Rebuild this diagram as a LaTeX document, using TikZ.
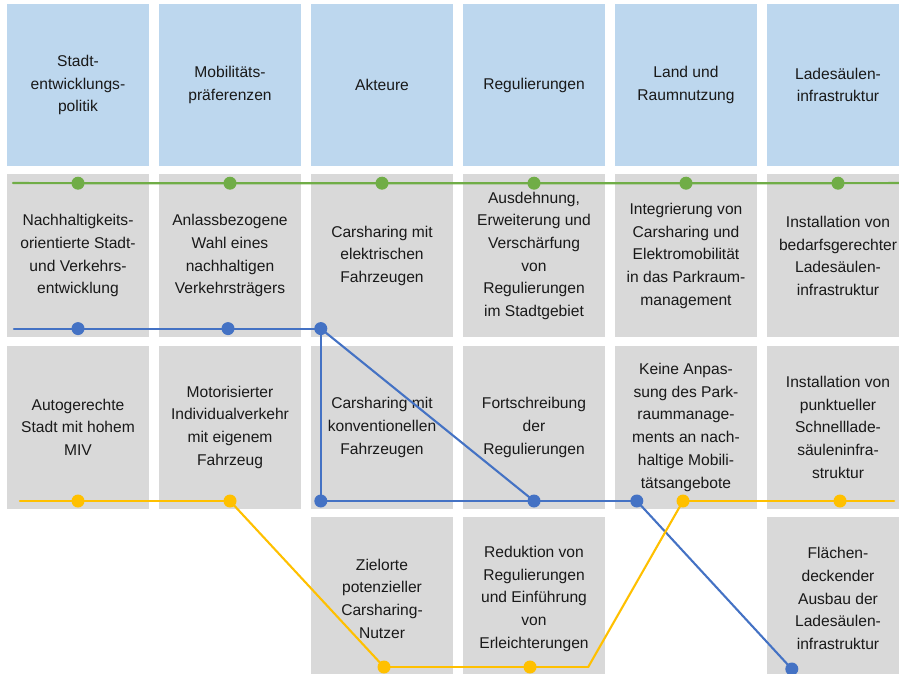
\documentclass[tikz,border=0pt]{standalone}
\usepackage{fontspec}
\setmainfont{Liberation Sans}
\usetikzlibrary{calc,positioning}
\definecolor{headblue}{HTML}{BDD7EE}
\definecolor{cellgray}{HTML}{D9D9D9}
\definecolor{lgreen}{HTML}{70AD47}
\definecolor{lblue}{HTML}{4472C4}
\definecolor{lyellow}{HTML}{FFC000}

\begin{document}
\begin{tikzpicture}
    [x=1pt,y=-1pt,font=\fontsize{15.6}{22.7}\selectfont,
     cellbox/.style={minimum width=142pt,minimum height=163pt,inner sep=0pt,
       align=center,text=black!90},
     head/.style={cellbox,fill=headblue,minimum height=162pt},
     cell/.style={cellbox,fill=cellgray},
     track/.style={line width=2.1pt,line cap=round}]
    \clip (0,0) rectangle (899,674);
    \begin{scope}[node distance=8pt and 9.6pt]
      \node (h1) [head] at (78,85) {Stadt-\\entwicklungs-\\politik};
      \node (h2) [head,right=of h1] {Mobilitäts-\\präferenzen};
      \node (h3) [head,right=of h2] {Akteure};
      \node (h4) [head,right=of h3] {Regulierungen};
      \node (h5) [head,right=of h4] {Land und\\Raumnutzung};
      \node (h6) [head,right=of h5] {Ladesäulen-\\infrastruktur};

      \node (u1) [cell,below=of h1] {Nachhaltigkeits-\\orientierte Stadt-\\und Verkehrs-\\entwicklung};
      \node (u2) [cell,below=of h2] {Anlassbezogene\\Wahl eines\\nachhaltigen\\Verkehrsträgers};
      \node (u3) [cell,below=of h3] {Carsharing mit\\elektrischen\\Fahrzeugen};
      \node (u4) [cell,below=of h4] {Ausdehnung,\\Erweiterung und\\Verschärfung\\von\\Regulierungen\\im Stadtgebiet};
      \node (u5) [cell,below=of h5] {Integrierung von\\Carsharing und\\Elektromobilität\\in das Parkraum-\\management};
      \node (u6) [cell,below=of h6] {Installation von\\bedarfsgerechter\\Ladesäulen-\\infrastruktur};

      \node (m1) [cell,below=of u1] {Autogerechte\\Stadt mit hohem\\MIV};
      \node (m2) [cell,below=of u2] {Motorisierter\\Individualverkehr\\mit eigenem\\Fahrzeug};
      \node (m3) [cell,below=of u3] {Carsharing mit\\konventionellen\\Fahrzeugen};
      \node (m4) [cell,below=of u4] {Fortschreibung\\der\\Regulierungen};
      \node (m5) [cell,below=of u5] {Keine Anpas-\\sung des Park-\\raummanage-\\ments an nach-\\haltige Mobili-\\tätsangebote};
      \node (m6) [cell,below=of u6] {Installation von\\punktueller\\Schnelllade-\\säuleninfra-\\struktur};

      \node (l3) [cell,below=of m3] {Zielorte\\potenzieller\\Carsharing-\\Nutzer};
      \node (l4) [cell,below=of m4] {Reduktion von\\Regulierungen\\und Einführung\\von\\Erleichterungen};
      \node (l6) [cell,below=of m6] {Flächen-\\deckender\\Ausbau der\\Ladesäulen-\\infrastruktur};
    \end{scope}

    % green path
    \foreach \i in {1,...,6} {
      \coordinate (g\i) at ($(u\i.north)+(0,9)$);
    }
    \coordinate (gs) at (13,183);
    \coordinate (ge) at (905,183);
    \draw[track,lgreen] (gs) -- (g1) -- (g2) -- (g3) -- (g4) -- (g5) -- (g6) -- (ge);

    % blue path
    \coordinate (bs) at ($(u1.south west)+(7,-9)$);
    \coordinate (b1) at ($(u1.south)+(0,-9)$);
    \coordinate (b2) at ($(u2.south)+(-2,-9)$);
    \coordinate (b3) at ($(u3.south west)+(10,-9)$);
    \coordinate (b4) at ($(m3.south west)+(10,-8)$);
    \coordinate (b5) at ($(m4.south)+(0,-8)$);
    \coordinate (b6) at ($(m5.south west)+(22,-8)$);
    \coordinate (b7) at ($(l6.north west)+(25,152)$);
    \foreach \n / \m in {bs/b1,b1/b2,b2/b3,b3/b4,b3/b5,b4/b5,b5/b6,b6/b7} {
      \draw[track,lblue] (\n) -- (\m);
    }

    % yellow path
    \coordinate (ys) at ($(m1.south west)+(13,-8)$);
    \coordinate (y1) at ($(m1.south)+(0,-8)$);
    \coordinate (y2) at ($(m2.south)+(0,-8)$);
    \coordinate (y3) at ($(l3.north)+(2,150)$);
    \coordinate (y4) at ($(l4.north)+(-4,150)$);
    \coordinate (yk) at ($(l4.north east)+(-17,150)$);
    \coordinate (y5) at ($(m5.south)+(-3,-8)$);
    \coordinate (y6) at ($(m6.south)+(2,-8)$);
    \coordinate (ye) at ($(m6.south east)+(-15,-8)$);
    \foreach \n / \m in {ys/y1,y1/y2,y2/y3,y3/y4,y4/yk,yk/y5,y5/y6,y6/ye} {
      \draw[track,lyellow] (\n) -- (\m);
    }

    \foreach \n in {g1,g2,g3,g4,g5,g6} {
      \fill[lgreen] (\n) circle (6.5pt);
    }
    \foreach \n in {b1,b2,b3,b4,b5,b6,b7} {
      \fill[lblue] (\n) circle (6.5pt);
    }
    \foreach \n in {y1,y2,y3,y4,y5,y6} {
      \fill[lyellow] (\n) circle (6.5pt);
    }
\end{tikzpicture}
\end{document}
